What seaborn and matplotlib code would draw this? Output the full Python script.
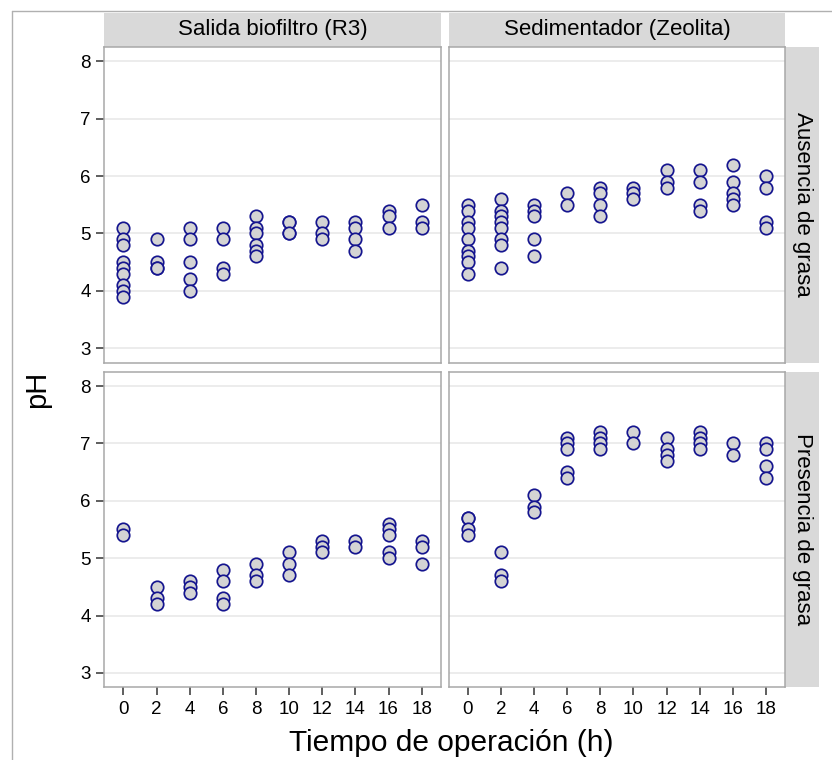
import matplotlib
matplotlib.use("Agg")
import matplotlib.pyplot as plt
from matplotlib.patches import Rectangle
from matplotlib.lines import Line2D
import seaborn as sns
import pandas as pd

sns.set_theme(style="white")
plt.rcParams['font.family'] = ['Liberation Sans', 'DejaVu Sans']

# ---- data (pH readings per sampling time) ----
tiempos = [0, 2, 4, 6, 8, 10, 12, 14, 16, 18]
col_labels = ["Salida biofiltro (R3)", "Sedimentador (Zeolita)"]
row_labels = ["Ausencia de grasa", "Presencia de grasa"]

biofiltro_ausencia = [
    [5.1, 4.9, 4.8, 4.5, 4.4, 4.3, 4.1, 4.0, 3.9],
    [4.9, 4.5, 4.4, 4.4],
    [5.1, 4.9, 4.5, 4.2, 4.0],
    [5.1, 4.9, 4.4, 4.3],
    [5.3, 5.1, 5.0, 4.8, 4.7, 4.6],
    [5.2, 5.0, 5.2, 5.0],
    [5.2, 5.0, 4.9],
    [5.2, 5.1, 4.9, 4.7],
    [5.4, 5.3, 5.1],
    [5.5, 5.2, 5.1],
]
zeolita_ausencia = [
    [5.5, 5.4, 5.2, 5.1, 4.9, 4.7, 4.6, 4.5, 4.3],
    [5.6, 5.4, 5.3, 5.2, 5.1, 4.9, 4.8, 4.4],
    [5.5, 5.4, 5.3, 4.9, 4.6],
    [5.7, 5.5],
    [5.8, 5.7, 5.5, 5.3],
    [5.8, 5.7, 5.6],
    [6.1, 5.9, 5.8],
    [6.1, 5.9, 5.5, 5.4],
    [6.2, 5.9, 5.7, 5.6, 5.5],
    [6.0, 5.8, 5.2, 5.1],
]
biofiltro_presencia = [
    [5.5, 5.4],
    [4.5, 4.3, 4.2],
    [4.6, 4.5, 4.4],
    [4.8, 4.6, 4.3, 4.2],
    [4.9, 4.7, 4.6],
    [5.1, 4.9, 4.7],
    [5.3, 5.2, 5.1],
    [5.3, 5.2],
    [5.6, 5.5, 5.4, 5.1, 5.0],
    [5.3, 5.2, 4.9],
]
zeolita_presencia = [
    [5.7, 5.7, 5.5, 5.4],
    [5.1, 4.7, 4.6],
    [6.1, 5.9, 5.8],
    [7.1, 7.0, 6.9, 6.5, 6.4],
    [7.2, 7.1, 7.0, 6.9],
    [7.2, 7.0],
    [7.1, 6.9, 6.8, 6.7],
    [7.2, 7.1, 7.0, 6.9],
    [7.0, 6.8],
    [7.0, 6.9, 6.6, 6.4],
]

panels = {
    (0, 0): biofiltro_ausencia,
    (0, 1): zeolita_ausencia,
    (1, 0): biofiltro_presencia,
    (1, 1): zeolita_presencia,
}

rows = []
for (r, c), series in panels.items():
    for t, vals in zip(tiempos, series):
        for v in vals:
            rows.append({"grasa": row_labels[r], "punto": col_labels[c],
                         "t": t, "pH": v})
df = pd.DataFrame(rows)

W, H = 832, 760
fig = plt.figure(figsize=(W / 100, H / 100), dpi=100)

left_x = [104.3, 448.7]
top_y = [47.0, 371.7]
pw, ph = 336.4, 315.6
strip_px = 34.0

for r in range(2):
    for c in range(2):
        ax = fig.add_axes([left_x[c] / W, 1 - (top_y[r] + ph) / H, pw / W, ph / H])
        sub = df[(df.grasa == row_labels[r]) & (df.punto == col_labels[c])]
        ax.set_axisbelow(True)
        for yv in range(3, 9):
            ax.axhline(yv, color="#EBEBEB", lw=1.3, zorder=0)
        sns.scatterplot(data=sub, x="t", y="pH", ax=ax, s=80,
                        color="#D4D4D4", edgecolor="#15158F", linewidth=1.25,
                        legend=False, zorder=3)
        ax.set_xlim(-1.15, 19.15)
        ax.set_ylim(2.75, 8.25)
        ax.set_xticks(tiempos)
        ax.set_yticks([3, 4, 5, 6, 7, 8])
        ax.grid(False)
        for sp in ax.spines.values():
            sp.set_color("#A8A8A8")
            sp.set_linewidth(1.1)
        ax.tick_params(axis="both", which="major", length=5.8, width=1.1,
                       color="#333333", labelsize=13.5, labelcolor="black",
                       pad=4, direction="out")
        ax.tick_params(left=(c == 0), bottom=(r == 1),
                       labelleft=(c == 0), labelbottom=(r == 1))
        ax.set_xlabel("")
        ax.set_ylabel("")
        if r == 0:
            sh = strip_px / ph
            ax.add_patch(Rectangle((0, 1), 1, sh, transform=ax.transAxes,
                                   facecolor="#D9D9D9", edgecolor="none",
                                   clip_on=False))
            ax.text(0.5, 1 + sh / 2, col_labels[c], transform=ax.transAxes,
                    ha="center", va="center", fontsize=16, color="black")
        if c == 1:
            sw = strip_px / pw
            ax.add_patch(Rectangle((1, 0), sw, 1, transform=ax.transAxes,
                                   facecolor="#D9D9D9", edgecolor="none",
                                   clip_on=False))
            ax.text(1 + sw / 2, 0.5, row_labels[r], transform=ax.transAxes,
                    ha="center", va="center", rotation=-90, fontsize=16,
                    color="black")

fig.text(37 / W, 1 - 389 / H, "pH", rotation=90, ha="center", va="center",
         fontsize=21, color="black")
fig.text(451.7 / W, 1 - 751 / H, "Tiempo de operación (h)", ha="center",
         va="baseline", fontsize=21.5, color="black")

# screenshot frame
fig.add_artist(Line2D([11.7 / W, 11.7 / W], [0, 1 - 11 / H],
                      transform=fig.transFigure, color="#B0B0B0", lw=1))
fig.add_artist(Line2D([11.7 / W, 1], [1 - 11 / H, 1 - 11 / H],
                      transform=fig.transFigure, color="#B0B0B0", lw=1))

fig.savefig("out.png", dpi=100, facecolor="white")
